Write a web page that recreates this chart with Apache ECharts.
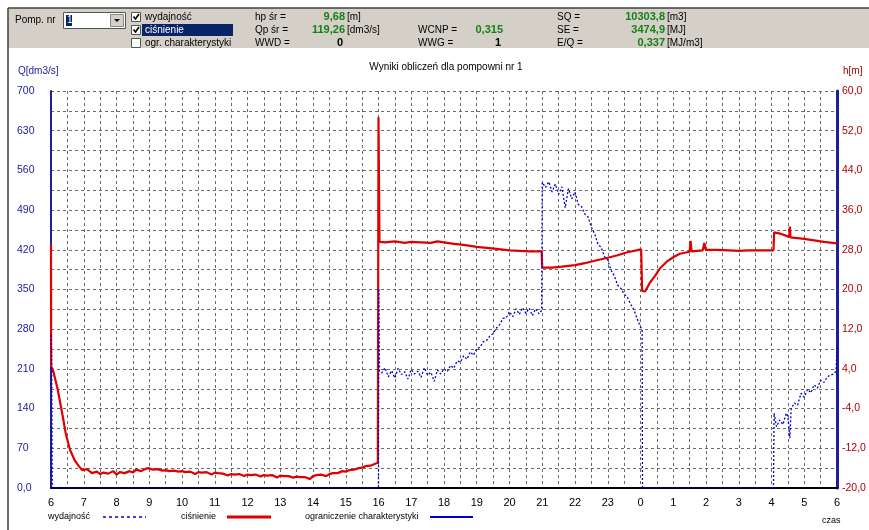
<!DOCTYPE html>
<html><head><meta charset="utf-8">
<script src="https://cdn.jsdelivr.net/npm/echarts@6/dist/echarts.min.js"></script>
<style>html,body{margin:0;padding:0;background:#fff}#c{width:869px;height:530px}</style>
</head><body><div id="c"></div>
<script>
// x = hours since 06:00
const hourLabels = ['6','7','8','9','10','11','12','13','14','15','16','17','18','19','20','21','22','23','0','1','2','3','4','5','6'];
const qTickLabels = ['0,0','70','140','210','280','350','420','490','560','630','700'];
const hTickLabels = ['-20,0','-12,0','-4,0','4,0','12,0','20,0','28,0','36,0','44,0','52,0','60,0'];

// wydajność Q [dm3/s]
const wydajnosc = [
[0,270],[0.02,232],[0.04,0],[10,0],[10.01,352],[10.03,206],
[10.1,203],[10.2,212],[10.3,196],[10.4,207],[10.5,194],[10.6,211],[10.7,200],[10.8,205],[10.9,192],[11.0,209],[11.1,201],[11.2,206],[11.3,195],[11.4,212],[11.5,199],[11.6,204],[11.7,188],[11.8,208],[11.9,201],[12.0,210],[12.1,205],[12.2,216],[12.3,211],[12.4,224],[12.5,222],[12.6,233],[12.7,227],[12.8,240],[12.9,234],[13.0,246],[13.1,248],[13.2,258],[13.3,260],[13.4,268],[13.5,272],[13.6,282],[13.7,288],[13.8,299],[13.9,300],[14.0,311],[14.1,302],[14.2,316],[14.3,306],[14.4,318],[14.5,308],[14.6,317],[14.7,304],[14.8,316],[14.9,307],[14.98,313],
[15.0,539],[15.1,530],[15.2,540],[15.3,522],[15.4,536],[15.5,518],[15.6,531],[15.7,494],[15.8,528],[15.9,510],[16.0,522],[16.1,500],[16.2,496],[16.3,483],[16.4,478],[16.5,460],[16.6,448],[16.7,430],[16.8,424],[16.9,408],[17.0,402],[17.1,384],[17.2,374],[17.3,358],[17.4,352],[17.5,342],[17.6,336],[17.7,324],[17.8,314],[17.9,298],[18.0,284],[18.05,279],[18.06,0],
[22.06,0],[22.08,132],[22.15,108],[22.25,120],[22.35,112],[22.45,132],[22.5,126],[22.56,88],[22.6,140],[22.7,150],[22.8,146],[22.9,167],[23.0,160],[23.1,174],[23.2,168],[23.3,182],[23.4,176],[23.5,190],[23.6,186],[23.7,196],[23.8,199],[23.9,201],[23.97,206],[24.0,247]
];

// ciśnienie h [m]
const cisnienie = [
[0,29.1],[0.005,4.4],[0.06,3.8],[0.2,0.0],[0.34,-4.9],[0.45,-9.0],[0.58,-12.3],[0.73,-14.5],[0.85,-15.6],[0.95,-16.4],
[1.0,-16.8],[1.1,-16.2],[1.25,-17.0],[1.4,-16.7],[1.5,-17.2],[1.6,-16.9],[1.75,-17.1],[1.9,-16.6],[2.0,-17.3],[2.1,-16.8],[2.25,-17.0],[2.4,-16.6],[2.5,-16.9],[2.6,-16.3],[2.75,-16.6],[2.9,-16.1],[3.0,-16.0],[3.1,-16.3],[3.25,-16.2],[3.4,-16.5],[3.5,-16.4],[3.6,-16.6],[3.75,-16.5],[3.9,-16.7],[4.0,-16.6],[4.1,-16.8],[4.25,-16.7],[4.4,-17.2],[4.5,-16.8],[4.6,-16.9],[4.75,-16.8],[4.9,-17.3],[5.0,-16.9],[5.1,-17.0],[5.25,-17.1],[5.4,-17.5],[5.5,-17.2],[5.6,-17.3],[5.75,-17.2],[5.9,-17.6],[6.0,-17.3],[6.1,-17.4],[6.25,-17.3],[6.4,-17.7],[6.5,-17.4],[6.6,-17.5],[6.75,-17.4],[6.9,-17.9],[7.0,-17.5],[7.1,-17.6],[7.25,-17.6],[7.4,-17.9],[7.5,-17.7],[7.6,-17.8],[7.75,-17.8],[7.9,-18.2],[8.0,-17.6],[8.1,-17.4],[8.25,-17.3],[8.4,-17.6],[8.5,-17.2],[8.6,-17.0],[8.75,-17.0],[8.9,-16.6],[9.0,-16.7],[9.1,-16.4],[9.25,-16.3],[9.4,-16.0],[9.5,-15.9],[9.6,-15.6],[9.75,-15.5],[9.9,-15.1],[9.98,-14.9],
[10.0,54.7],[10.03,29.6],
[10.2,29.5],[10.5,29.7],[10.8,29.4],[11.0,29.6],[11.3,29.5],[11.6,29.4],[11.8,29.7],[12.0,29.5],[12.3,29.2],[12.6,29.0],[13.0,28.6],[13.3,28.4],[13.6,28.2],[14.0,27.9],[14.3,27.8],[14.6,27.7],[14.98,27.7],
[15.0,24.4],[15.3,24.4],[15.6,24.6],[16.0,24.9],[16.3,25.3],[16.6,25.8],[17.0,26.4],[17.3,26.9],[17.6,27.5],[18.02,28.1],
[18.05,19.7],[18.14,19.6],[18.3,21.5],[18.45,22.8],[18.6,24.3],[18.8,25.6],[19.0,26.5],[19.2,27.2],[19.5,27.6],[19.53,29.8],[19.56,27.7],[19.9,27.9],[19.95,29.4],[19.99,28.0],[20.35,28.0],[20.7,27.9],[21.0,27.8],[21.3,27.9],[21.6,27.9],[22.06,27.9],
[22.08,31.5],[22.3,31.2],[22.54,30.6],[22.56,32.7],[22.58,30.5],[23.0,30.2],[23.3,29.9],[23.6,29.6],[24.0,29.3]
];

// ograniczenie charakterystyki (not shown)
const ograniczenie = [];

const FONT = 'Liberation Sans, Arial, sans-serif';
const G = [];
function T(x, y, text, o) {
  o = o || {};
  G.push({type:'text', x:x, y:y, z:10, style:{text:text, fill:o.fill||'#000',
    font:(o.bold?'bold ':'')+(o.size||10)+'px '+FONT, textAlign:o.align||'left', textVerticalAlign:'middle'}});
}
function L(x1,y1,x2,y2,stroke,w,dash){
  G.push({type:'line', z:10, shape:{x1:x1,y1:y1,x2:x2,y2:y2}, style:{stroke:stroke,lineWidth:w||1,lineDash:dash||null}});
}
function R(x,y,w,h,fill,stroke){
  G.push({type:'rect', z:9, shape:{x:x,y:y,width:w,height:h}, style:{fill:fill,stroke:stroke||null,lineWidth:1}});
}
// top panel
R(8,8,861,40,'#d4d0c8');
L(8,8,869,8,'#404040',1.5);
L(8,8,8,530,'#404040',1.5);
T(15,20,'Pomp. nr');
R(63.5,12.5,62,16,'#fff','#555');
R(66,15,6,11,'#0a246a');
T(67,20.5,'1',{fill:'#fff'});
R(110.5,14.5,13,12,'#d4d0c8','#888');
G.push({type:'polygon', z:11, shape:{points:[[114,19],[120,19],[117,22]]}, style:{fill:'#000'}});
// checkboxes
[[17,true],[30,true],[43,false]].forEach(function(c){
  R(131.5,c[0]-4.5,9,9,'#fff','#555');
  if(c[1]) G.push({type:'polyline', z:11, shape:{points:[[133.5,c[0]-0.5],[135.5,c[0]+2],[139,c[0]-3]]}, style:{stroke:'#000',lineWidth:1.6,fill:null}});
});
R(142,24,91,12,'#0a246a');
T(145,17,'wydajność');
T(145,30,'ciśnienie',{fill:'#fff'});
T(145,43,'ogr. charakterystyki');
// stats
T(255,17,'hp śr =');
T(255,30,'Qp śr =');
T(255,43,'WWD =');
T(345,17,'9,68',{bold:true,size:11,fill:'#168016',align:'right'}); T(347,17,'[m]');
T(345,30,'119,26',{bold:true,size:11,fill:'#168016',align:'right'}); T(347,30,'[dm3/s]');
T(343,43,'0',{bold:true,size:11,align:'right'});
T(418,30,'WCNP =');
T(418,43,'WWG =');
T(503,30,'0,315',{bold:true,size:11,fill:'#168016',align:'right'});
T(501,43,'1',{bold:true,size:11,align:'right'});
T(557,17,'SQ =');
T(557,30,'SE =');
T(557,43,'E/Q =');
T(665,17,'10303,8',{bold:true,size:11,fill:'#168016',align:'right'}); T(667,17,'[m3]');
T(665,30,'3474,9',{bold:true,size:11,fill:'#168016',align:'right'}); T(667,30,'[MJ]');
T(665,43,'0,337',{bold:true,size:11,fill:'#168016',align:'right'}); T(667,43,'[MJ/m3]');
// chart texts
T(446,67,'Wyniki obliczeń dla pompowni nr 1',{size:10,align:'center'});
T(18,71,'Q[dm3/s]',{size:10,fill:'#2020a0'});
T(843,71,'h[m]',{size:10,fill:'#b00000'});
// legend
T(48,517,'wydajność',{size:9});
L(103,517,146,517,'#0000d0',1.5,[3,3]);
T(181,517,'ciśnienie',{size:9});
L(227,517,271,517,'#e00000',3);
T(305,517,'ograniczenie charakterystyki',{size:9});
L(430,517,473,517,'#0000d0',2);
T(822,521,'czas',{size:9});

const chart = echarts.init(document.getElementById('c'));
chart.setOption({
  animation:false,
  textStyle:{fontFamily:FONT},
  grid:{left:51,right:32,top:91,bottom:42},
  xAxis:{type:'value',min:0,max:24,interval:0.5,
    axisLine:{show:true,onZero:false,lineStyle:{color:'#000',width:2}},axisTick:{show:false},
    axisLabel:{formatter:function(v){return Number.isInteger(v)?hourLabels[v]:'';},color:'#000',fontSize:11,margin:9,showMinLabel:true,showMaxLabel:true},
    splitLine:{show:true,lineStyle:{color:'#6a6a6a',type:[3,3],width:1}}},
  yAxis:[
    {type:'value',min:0,max:700,interval:35,position:'left',
     axisLine:{show:true,onZero:false,lineStyle:{color:'#1f1f8f',width:2}},axisTick:{show:false},
     axisLabel:{formatter:function(v){return v%70===0?qTickLabels[v/70]:'';},color:'#2020a0',fontSize:10.5,align:'left',margin:34},
     splitLine:{show:true,lineStyle:{color:'#6a6a6a',type:[3,3],width:1}}},
    {type:'value',min:-20,max:60,interval:4,position:'right',
     axisLine:{show:true,onZero:false,lineStyle:{color:'#1f1f8f',width:3}},axisTick:{show:false},
     axisLabel:{formatter:function(v){return (v+20)%8===0?hTickLabels[(v+20)/8]:'';},color:'#b00000',fontSize:10.5,align:'left',margin:5},
     splitLine:{show:false}}
  ],
  series:[
    {type:'line',name:'ograniczenie charakterystyki',yAxisIndex:0,data:ograniczenie,symbol:'none',lineStyle:{color:'#0000d0',width:2}},
    {type:'line',name:'ciśnienie',yAxisIndex:1,data:cisnienie,symbol:'none',lineStyle:{color:'#e00000',width:2.2},z:3},
    {type:'line',name:'wydajność',yAxisIndex:0,data:wydajnosc,symbol:'none',lineStyle:{color:'#0000d0',width:1.3,type:[2,2]},z:4}
  ],
  graphic:G
});
</script></body></html>
